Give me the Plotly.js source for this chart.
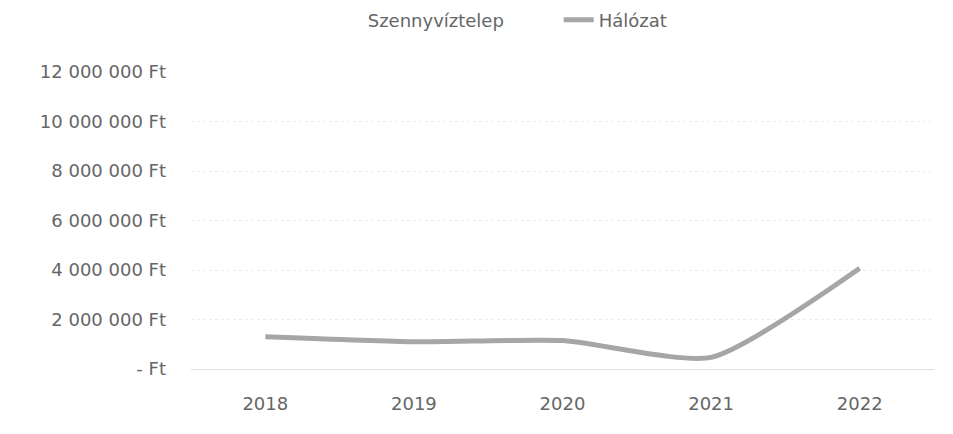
<!DOCTYPE html>
<html>
<head>
<meta charset="utf-8">
<script src="https://cdn.plot.ly/plotly-3.0.1.min.js"></script>
<style>html,body{margin:0;padding:0;background:#fff;}#chart{width:953px;height:434px;}</style>
</head>
<body>
<div id="chart"></div>
<script>
const years = ["2018", "2019", "2020", "2021", "2022"];
const szennyviztelep = [null, null, null, null, null];
const halozat = [1300000, 1100000, 1150000, 470000, 4070000];
const yTickVals = [0, 2000000, 4000000, 6000000, 8000000, 10000000, 12000000];
const yTickText = ["- Ft", "2 000 000 Ft", "4 000 000 Ft", "6 000 000 Ft", "8 000 000 Ft", "10 000 000 Ft", "12 000 000 Ft"];

const font = {family: "DejaVu Sans", size: 18, color: "#666666"};

const data = [
  {x: years, y: szennyviztelep, name: "Szennyvíztelep", type: "scatter", mode: "lines",
   line: {color: "rgba(0,0,0,0)", width: 4}},
  {x: years, y: halozat, name: "Hálózat", type: "scatter", mode: "lines",
   line: {color: "#a6a6a6", width: 5, shape: "spline", smoothing: 0.6}}
];

const layout = {
  width: 953, height: 434,
  margin: {l: 191, r: 19, t: 72, b: 65, autoexpand: false},
  paper_bgcolor: "#fff", plot_bgcolor: "#fff",
  font: font,
  showlegend: true,
  legend: {orientation: "h", x: 0.184, xanchor: "left", y: 1.175, yanchor: "middle",
           font: font, bgcolor: "rgba(0,0,0,0)", traceorder: "normal",
           entrywidth: 186, entrywidthmode: "pixels"},
  xaxis: {type: "category", range: [-0.5, 4.5], showgrid: false, zeroline: false,
          showline: false, ticks: "", tickfont: font, ticklabelstandoff: 22},
  yaxis: {range: [0, 12000000], tickvals: yTickVals, ticktext: yTickText,
          showgrid: true, gridcolor: "#ececec", griddash: "dot", gridwidth: 1,
          zeroline: true, zerolinecolor: "#e0e0e0", zerolinewidth: 1,
          showline: false, ticks: "", tickfont: font, ticklabelstandoff: 24}
};

Plotly.newPlot("chart", data, layout, {displayModeBar: false, staticPlot: true});
</script>
</body>
</html>
